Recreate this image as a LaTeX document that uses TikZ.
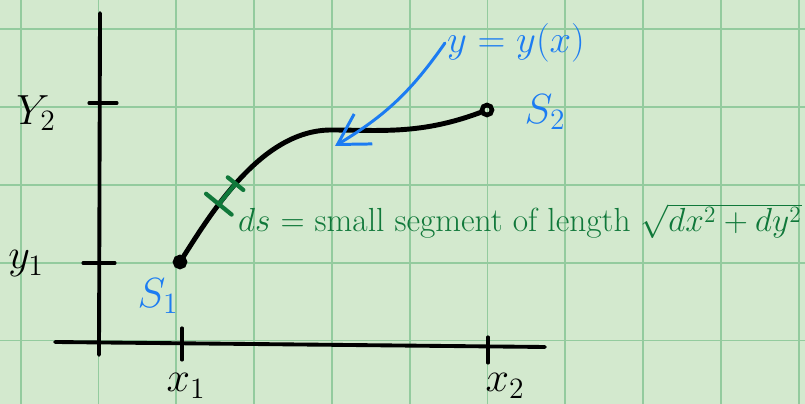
\documentclass[tikz,border=0pt]{standalone}
\usepackage{fix-cm}
\usepackage{fontspec}
\usetikzlibrary{arrows.meta,calc}
\definecolor{PaperGreen}{HTML}{D3E9CE}
\definecolor{GridGreen}{HTML}{93CB9E}
\definecolor{InkBlue}{HTML}{1C7CF2}
\definecolor{InkGreen}{HTML}{10783A}

\begin{document}
\begin{tikzpicture}[x=0.02cm,y=-0.02cm,line cap=round,
  every node/.style={font=\fontsize{24}{28}\selectfont,inner sep=1pt},
  axis/.style={line width=2.2pt},
  tickmark/.style={line width=1.8pt},
  curveline/.style={line width=2.8pt},
  pointdot/.style={circle,draw,line width=2.6pt,minimum size=0.2cm,inner sep=0pt},
  bluelabel/.style={text=InkBlue},
  dsline/.style={InkGreen,line width=2.4pt}]
  \fill[PaperGreen] (0,0) rectangle (805,404);
  \useasboundingbox (0,0) rectangle (805,404);
  % grid paper
  \foreach \gx in {0,...,10}
    \draw[GridGreen,line width=1pt] ({20.7+77.8*\gx},0) -- ({20.7+77.8*\gx},404);
  \foreach \gy in {0,...,4}
    \draw[GridGreen,line width=1pt] (0,{29.3+77.8*\gy}) -- (805,{29.3+77.8*\gy});

  % axes
  \coordinate (ytop) at (100,13);
  \coordinate (ybot) at (99,355);
  \coordinate (xleft) at (55,342);
  \coordinate (xright) at (545,347);
  \draw[axis] (ytop) -- (ybot);
  \draw[axis] (xleft) -- (xright);
  \draw[tickmark] (89,103) -- (117,103);
  \draw[tickmark] (83,263) -- (115,263);
  \draw[tickmark] (182,328) -- (182,360);
  \draw[tickmark] (488,337) -- (488,363);
  \node (ylabtwo) at (36,113) {$Y_2$};
  \node (ylabone) at (26,264) {$y_1$};
  \node (xlabone) at (186,386) {$x_1$};
  \node (xlabtwo) at (505,386) {$x_2$};

  % end points and curve
  \node[pointdot,fill=black] (s1) at (180,262) {};
  \node[pointdot] (s2) at (487,110) {};
  \node[bluelabel] (slabone) at (158,296) {$S_1$};
  \node[bluelabel] (slabtwo) at (545,112) {$S_2$};
  \coordinate (mid) at (330,130);
  \draw[curveline] (s1.center) .. controls (210,215) and (260,131) .. (mid)
    coordinate[pos=0.35] (dsa) coordinate[pos=0.47] (dsb)
    .. controls (380,130) and (420,135) .. (s2);

  % small segment ds
  \draw[dsline] (dsa) -- (dsb);
  \draw[dsline] ($(dsa)!0.33cm!90:(dsb)$) -- ($(dsa)!0.33cm!-90:(dsb)$);
  \draw[dsline] ($(dsb)!0.2cm!90:(dsa)$) -- ($(dsb)!0.2cm!-90:(dsa)$);
  \node[anchor=west,text=InkGreen,font=\fontsize{19}{23}\selectfont] (dslabel) at (236,221)
    {$ds$ = small segment of length $\sqrt{dx^2+dy^2}$};

  % y = y(x)
  \node[bluelabel,font=\fontsize{22}{26}\selectfont] (curvelabel) at (516,43) {$y=y(x)$};
  \coordinate (tipy) at (335,146);
  \draw[InkBlue,line width=1.7pt,-{Straight Barb[length=6mm,width=7mm]}] (curvelabel.west) to[bend left=12] (tipy);
\end{tikzpicture}
\end{document}
